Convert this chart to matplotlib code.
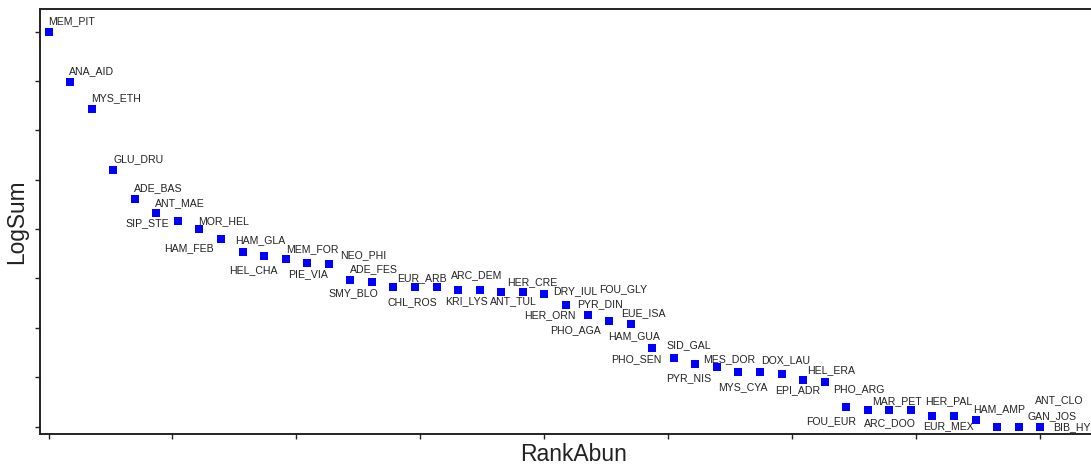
import numpy as np
import matplotlib
matplotlib.use("Agg")
import matplotlib.pyplot as plt

species = ["MEM_PIT", "ANA_AID", "MYS_ETH", "GLU_DRU", "ADE_BAS", "ANT_MAE", "SIP_STE",
           "MOR_HEL", "HAM_FEB", "HAM_GLA", "HEL_CHA", "MEM_FOR", "PIE_VIA", "NEO_PHI",
           "ADE_FES", "SMY_BLO", "EUR_ARB", "CHL_ROS", "ARC_DEM", "KRI_LYS", "ANT_TUL",
           "HER_CRE", "DRY_IUL", "FOU_GLY", "HER_ORN", "PYR_DIN", "PHO_AGA", "EUE_ISA",
           "HAM_GUA", "SID_GAL", "PHO_SEN", "PYR_NIS", "MES_DOR", "MYS_CYA", "DOX_LAU",
           "EPI_ADR", "HEL_ERA", "PHO_ARG", "FOU_EUR", "MAR_PET", "ARC_DOO", "HER_PAL",
           "EUR_MEX", "HAM_AMP", "ANT_CLO", "GAN_JOS", "BIB_HY"]
rank = np.arange(1, len(species) + 1)
logsum = [8.00, 6.98, 6.44, 5.20, 4.62, 4.32, 4.17, 4.01, 3.79, 3.54, 3.45, 3.39,
          3.31, 3.30, 2.97, 2.92, 2.83, 2.83, 2.82, 2.77, 2.77, 2.73, 2.73, 2.68,
          2.47, 2.25, 2.14, 2.08, 1.60, 1.38, 1.26, 1.21, 1.11, 1.11, 1.06, 0.94,
          0.90, 0.40, 0.33, 0.33, 0.33, 0.22, 0.22, 0.13, 0.00, 0.00, 0.00]

# label offsets in pixels: (left edge - point x, baseline - point y, y down)
lab_dx = [-0.7, -0.7, 0, 0, -0.7, -1.7, -52, -1, -56.4, -7.4, -35, 0, -19, 11.7,
          -0.4, -43.4, 4, -28, 14.3, -13.3, 10.3, 6, 30, 55, -41.7, -10.3, -59.4, -9,
          -44.3, -7.6, -84, -50.3, -35.3, -42.3, -20.7, -28.4, -17.6, -13.4, -61.3,
          -17.3, -46.7, -7.7, -30.6, -2.7, 38.3, 9.3, 13.3]
lab_dy = [-6.3, -6.7, -6, -6.7, -6, -5.6, 6.6, -3.4, 13.4, -7.4, 18, -5.6, 15.7, -4.4,
          -6.7, 15.7, -4.4, 19.3, -7.3, 16.3, 16.3, -5.3, 4, -0.3, 15.3, -6.4, 13.3, -6,
          -7.3, -8.3, -1, 16.3, -8.4, 19.6, -9.3, 15, -7, -12.7, 15.4, -5, 17, -9.7,
          15.3, -6.7, -21.6, -6.3, 4.7]

W, H = 1091, 465
fig = plt.figure(figsize=(W / 100, H / 100), dpi=100)
fig.patch.set_facecolor("white")

px_per_rank = 21.56
px_per_y = 49.35
left_px, right_px, top_px, bot_px = 40, 1105, 9, 433.5
ax = fig.add_axes([left_px / W, 1 - bot_px / H, (right_px - left_px) / W,
                   (bot_px - top_px) / H])

x0 = 48.5  # pixel of rank 1
y0 = 426.5  # pixel of logsum 0
ax.set_xlim(1 - (x0 - left_px) / px_per_rank, 1 + (right_px - x0) / px_per_rank)
ax.set_ylim(-(bot_px - y0) / px_per_y, (y0 - top_px) / px_per_y)

ax.plot(rank, logsum, linestyle="none", marker="s", markersize=5.2,
        color="#0000ff", markeredgewidth=0)

for i, name in enumerate(species):
    ax.annotate(name, (rank[i], logsum[i]),
                xytext=(lab_dx[i], -(lab_dy[i] - 1.5)), textcoords="offset pixels",
                ha="left", va="baseline", fontsize=7.6, color="#222222",
                family="Liberation Sans")

ax.set_xticks(np.linspace(1, 47, 9))
ax.set_yticks(np.arange(0, 9))
ax.set_xticklabels([])
ax.set_yticklabels([])
ax.tick_params(direction="out", length=3.5, width=1.0, color="#222222")
for s in ax.spines.values():
    s.set_linewidth(1.4)
    s.set_color("#222222")

fig.text(17 / W, 1 - 222 / H, "LogSum", rotation=90, ha="center", va="center",
         fontsize=16.3, color="#222222", family="Liberation Sans")
fig.text(573.7 / W, 1 - 460.5 / H, "RankAbun", ha="center", va="baseline",
         fontsize=16.5, color="#222222", family="Liberation Sans")

fig.savefig("out.png", dpi=100)
